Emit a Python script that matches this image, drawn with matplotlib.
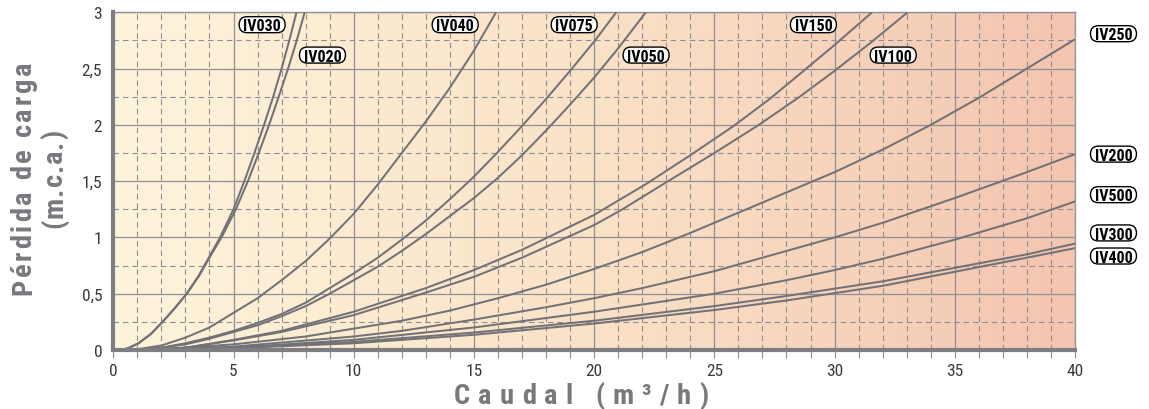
import numpy as np
import matplotlib
matplotlib.use("Agg")
import matplotlib.pyplot as plt
from matplotlib import font_manager as fm
from matplotlib.colors import LinearSegmentedColormap
from matplotlib.patches import FancyBboxPatch
from matplotlib.transforms import IdentityTransform
from matplotlib.font_manager import FontProperties

# ---------------- data ----------------
iv030_q = [0.3, 0.6, 1.05, 1.55, 2.05, 2.55, 3.05, 3.55, 4.05, 4.44, 5.0, 5.45, 5.87, 6.27, 6.65, 7.0, 7.32, 7.62]
iv030_h = [0, 0.015, 0.06, 0.14, 0.25, 0.37, 0.5, 0.66, 0.85, 1.0, 1.25, 1.5, 1.75, 2.0, 2.25, 2.5, 2.75, 3.0]

iv020_q = [0.3, 0.6, 1.05, 1.55, 2.05, 2.55, 3.06, 3.57, 4.08, 4.5, 5.1, 5.6, 6.05, 6.48, 6.88, 7.27, 7.63, 7.96]
iv020_h = [0, 0.015, 0.06, 0.14, 0.25, 0.37, 0.5, 0.66, 0.85, 1.0, 1.25, 1.5, 1.75, 2.0, 2.25, 2.5, 2.75, 3.0]

iv040_q = [0.8, 2, 3, 4, 5, 6, 7, 8, 9, 10, 11, 12, 13, 14, 15, 15.92]
iv040_h = [0, 0.04, 0.11, 0.2, 0.33, 0.46, 0.62, 0.79, 0.99, 1.21, 1.47, 1.75, 2.03, 2.33, 2.66, 3.0]

iv075_q = [1.0, 2, 3, 4, 5, 6, 7, 8, 9, 10, 11, 12, 13, 14, 15, 16, 17, 18, 19, 20, 20.92]
iv075_h = [0, 0.02, 0.06, 0.11, 0.17, 0.24, 0.32, 0.42, 0.55, 0.68, 0.82, 0.98, 1.15, 1.34, 1.54, 1.76, 1.99, 2.23, 2.48, 2.74, 3.0]

iv050_q = [1.0, 2, 3, 4, 5, 6, 7, 8, 9, 10, 11, 12, 13, 14, 15, 16, 17, 18, 19, 20, 21, 22.15]
iv050_h = [0, 0.02, 0.05, 0.1, 0.16, 0.22, 0.3, 0.39, 0.5, 0.62, 0.74, 0.88, 1.03, 1.19, 1.35, 1.53, 1.73, 1.95, 2.18, 2.42, 2.68, 3.0]

iv150_q = [1.2, 3, 5, 7, 10, 13, 15, 17, 20, 22.2, 24, 25.8, 27.3, 28.6, 30, 31.56]
iv150_h = [0, 0.02, 0.09, 0.17, 0.34, 0.55, 0.71, 0.89, 1.2, 1.48, 1.73, 1.99, 2.23, 2.46, 2.71, 3.0]

iv100_q = [1.2, 3, 5, 7, 10, 13, 15, 17, 20, 21.1, 23, 25, 26.85, 28.55, 30, 31.5, 33.04]
iv100_h = [0, 0.02, 0.085, 0.16, 0.31, 0.51, 0.65, 0.82, 1.11, 1.24, 1.49, 1.75, 2.0, 2.25, 2.48, 2.73, 3.0]

iv250_q = [1.5, 5, 8, 10, 12, 14, 16, 18, 20, 22, 24, 26, 28, 30, 32, 34, 36, 38, 40]
iv250_h = [0, 0.05, 0.12, 0.19, 0.26, 0.35, 0.46, 0.58, 0.72, 0.87, 1.04, 1.22, 1.40, 1.58, 1.78, 2.0, 2.24, 2.5, 2.76]

iv200_q = [1.5, 5, 10, 12, 15, 18, 20, 22, 25, 28, 30, 32, 35, 38, 40]
iv200_h = [0, 0.03, 0.12, 0.17, 0.27, 0.38, 0.46, 0.55, 0.70, 0.88, 1.0, 1.13, 1.35, 1.58, 1.74]

iv500_q = [1.5, 5, 10, 15, 20, 25, 28, 30, 32, 35, 38, 40]
iv500_h = [0, 0.02, 0.09, 0.2, 0.34, 0.5, 0.62, 0.71, 0.81, 0.98, 1.17, 1.32]

iv300_q = [1.5, 5, 10, 15, 20, 25, 28, 30, 32, 35, 38, 40]
iv300_h = [0, 0.02, 0.072, 0.155, 0.26, 0.39, 0.48, 0.545, 0.61, 0.73, 0.85, 0.945]

iv400_q = [1.5, 5, 10, 15, 20, 25, 28, 30, 32, 35, 38, 40]
iv400_h = [0, 0.015, 0.06, 0.135, 0.235, 0.355, 0.44, 0.505, 0.57, 0.695, 0.82, 0.905]

series = [
    ("IV030", iv030_q, iv030_h), ("IV020", iv020_q, iv020_h),
    ("IV040", iv040_q, iv040_h), ("IV075", iv075_q, iv075_h),
    ("IV050", iv050_q, iv050_h), ("IV150", iv150_q, iv150_h),
    ("IV100", iv100_q, iv100_h), ("IV250", iv250_q, iv250_h),
    ("IV200", iv200_q, iv200_h), ("IV500", iv500_q, iv500_h),
    ("IV300", iv300_q, iv300_h), ("IV400", iv400_q, iv400_h),
]

x_ticks = [0, 5, 10, 15, 20, 25, 30, 35, 40]
y_ticks = [0, 0.5, 1, 1.5, 2, 2.5, 3]
y_tick_labels = ["0", "0,5", "1", "1,5", "2", "2,5", "3"]

# label placement (data coords)
label_pos = {
    "IV030": (6.19, 2.89), "IV020": (8.70, 2.62), "IV040": (14.22, 2.89),
    "IV075": (19.17, 2.89), "IV050": (22.16, 2.62), "IV150": (29.12, 2.89),
    "IV100": (32.44, 2.62), "IV250": (41.60, 2.81), "IV200": (41.60, 1.74),
    "IV500": (41.60, 1.38), "IV300": (41.60, 1.04), "IV400": (41.60, 0.835),
}

# ---------------- fonts ----------------
available = set(f.name for f in fm.fontManager.ttflist)
NARROW = "DejaVu Sans"
for cand in ["Roboto Condensed", "Liberation Sans Narrow", "Archivo Narrow",
             "Barlow Semi Condensed", "Barlow Condensed", "Asap Condensed"]:
    if cand in available:
        NARROW = cand
        break

# ---------------- styling ----------------
W, H = 1149, 410
grid_c = "#8e8e94"
curve_c = "#727276"
title_c = "#78787d"

fig = plt.figure(figsize=(W / 100, H / 100), dpi=100)
ax = fig.add_axes([113.3 / W, 1 - 351 / H, (1075 - 113.3) / W, (351 - 13.3) / H])

cmap = LinearSegmentedColormap.from_list("bg", ["#FEF4DB", "#FAE2C7", "#F4C5B1"])
ax.imshow(np.linspace(0, 1, 512)[None, :], extent=[0, 40, 0, 3], aspect="auto",
          cmap=cmap, zorder=0, interpolation="bilinear")

ax.set_xlim(0, 40)
ax.set_ylim(0, 3)
ax.set_xticks(x_ticks)
ax.set_xticks(range(0, 41), minor=True)
ax.set_yticks(y_ticks)
ax.set_yticks(np.arange(0, 3.01, 0.25), minor=True)
ax.set_yticklabels(y_tick_labels)

ax.grid(which="major", color=grid_c, lw=0.9, ls="-", zorder=1)
ax.grid(which="minor", color=grid_c, lw=0.8, ls=(0, (5, 3.5)), zorder=1)
ax.set_axisbelow(False)

tick_fp = FontProperties(family=NARROW, size=12.5)
ax.tick_params(axis="x", which="both", direction="out", length=6, width=0.8,
               color=grid_c, pad=3.5, labelcolor="#3a3a3a")
ax.tick_params(axis="y", which="both", length=0, pad=8, labelcolor="#3a3a3a")
for lab in ax.get_xticklabels() + ax.get_yticklabels():
    lab.set_fontproperties(tick_fp)

for s in ["left", "bottom"]:
    ax.spines[s].set_linewidth(3.0)
    ax.spines[s].set_color("#7e7e82")
    ax.spines[s].set_zorder(5)
for s in ["top", "right"]:
    ax.spines[s].set_linewidth(1.0)
    ax.spines[s].set_color("#9a9a9e")

for name, q, h in series:
    ax.plot(q, h, color=curve_c, lw=1.45, zorder=3, solid_capstyle="butt",
            solid_joinstyle="round", clip_on=True)

# ---------------- pill labels ----------------
lab_fp = FontProperties(family=NARROW, weight="bold", size=11.5)
bw, bh = 46, 16
for name, (lx, ly) in label_pos.items():
    px, py = ax.transData.transform((lx, ly))
    patch = FancyBboxPatch((px - bw / 2, py - bh / 2), bw, bh,
                           boxstyle=f"round,pad=0,rounding_size={bh / 2}",
                           transform=IdentityTransform(), fc="white", ec="black",
                           lw=1.0, zorder=10)
    fig.add_artist(patch)
    fig.text(px, py - 5.7, name, transform=IdentityTransform(), ha="center",
             va="baseline", fontproperties=lab_fp, color="black", zorder=11)

# ---------------- tracked axis titles ----------------
fig.canvas.draw()
renderer = fig.canvas.get_renderer()
title_fp = FontProperties(family=NARROW, weight="bold", size=20.5)


def wid(s):
    w, _, _ = renderer.get_text_width_height_descent(s, title_fp, ismath=False)
    return w


def tracked(s, center, length, base, vertical=False):
    n = len(s)
    natural = wid(s)
    track = (length - natural) / (n - 1)
    start = center - length / 2
    for i, ch in enumerate(s):
        if ch == " ":
            continue
        off = wid(s[:i + 1]) - wid(ch) + i * track
        if vertical:
            fig.text(base, start + off, ch, rotation=90, rotation_mode="anchor",
                     ha="left", va="baseline", transform=IdentityTransform(),
                     fontproperties=title_fp, color=title_c)
        else:
            fig.text(start + off, base, ch, ha="left", va="baseline",
                     transform=IdentityTransform(), fontproperties=title_fp,
                     color=title_c)


tracked("Caudal (m³/h)", 581, 254, 410 - 404)
tracked("Pérdida de carga", 410 - 178.5, 233, 31, vertical=True)
tracked("(m.c.a.)", 410 - 179, 98, 62, vertical=True)

fig.savefig("out.png", dpi=100)
